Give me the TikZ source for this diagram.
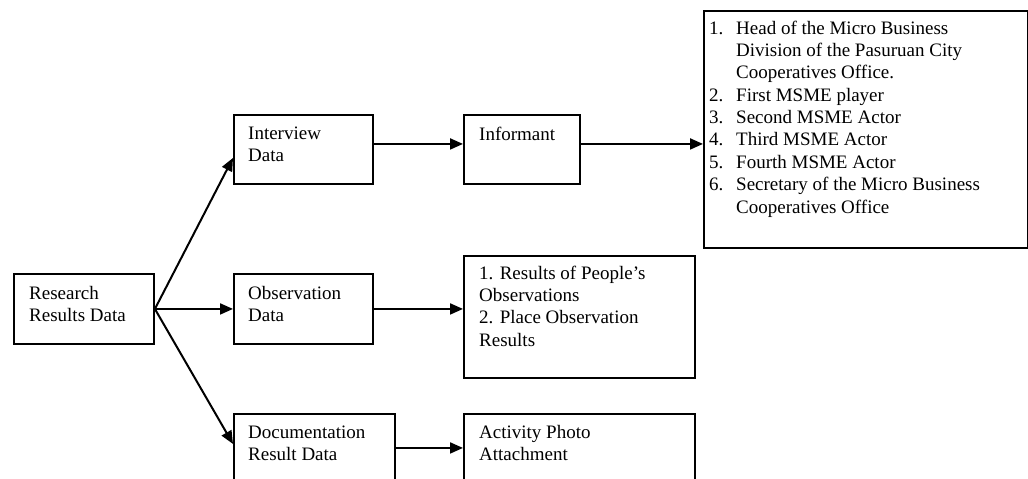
\documentclass[tikz,border=0pt]{standalone}
\usepackage{fontspec}
\setmainfont{Liberation Serif}
\usetikzlibrary{arrows.meta,calc}
\begin{document}
\begin{tikzpicture}[x=1pt,y=-1pt,
  box/.style={draw,line width=1.9pt,inner sep=0pt,anchor=north west},
  lbl/.style={anchor=base west,inner sep=0pt,font=\fontsize{19}{22.4}\selectfont},
  conn/.style={line width=2pt,-{Triangle[length=13pt,width=11pt]}}]
\useasboundingbox (0,0) rectangle (1028,479);
\clip (0,0) rectangle (1028,479);
\fill[white] (0,0) rectangle (1028,479);
% boxes
\node[box,minimum width=140pt,minimum height=70pt] (res) at (13,273) {};
\node[box,minimum width=139pt,minimum height=69pt] (int) at (233,114) {};
\node[box,minimum width=116pt,minimum height=69pt] (inf) at (463,114) {};
\node[box,minimum width=324pt,minimum height=237pt] (big) at (703,10) {};
\node[box,minimum width=139pt,minimum height=70pt] (obs) at (233,273) {};
\node[box,minimum width=231pt,minimum height=122pt] (obsres) at (463,255) {};
\node[box,minimum width=161pt,minimum height=90pt] (doc) at (233,413) {};
\node[box,minimum width=231pt,minimum height=90pt] (act) at (463,413) {};
% texts
\node[lbl] (resT) at (29,299) {\begin{tabular}[t]{@{}l@{}}Research\\Results Data\end{tabular}};
\node[lbl] (intT) at (248,139) {\begin{tabular}[t]{@{}l@{}}Interview\\Data\end{tabular}};
\node[lbl] (infT) at (479,140) {Informant};
\node[lbl] (bigT) at (709,34) {\begin{tabular}[t]{@{}l@{}}
\makebox[27pt][l]{1.}Head of the Micro Business\\
\hspace*{27pt}Division of the Pasuruan City\\
\hspace*{27pt}Cooperatives Office.\\
\makebox[27pt][l]{2.}First MSME player\\
\makebox[27pt][l]{3.}Second MSME Actor\\
\makebox[27pt][l]{4.}Third MSME Actor\\
\makebox[27pt][l]{5.}Fourth MSME Actor\\
\makebox[27pt][l]{6.}Secretary of the Micro Business\\
\hspace*{27pt}Cooperatives Office\end{tabular}};
\node[lbl] (obsT) at (248,299) {\begin{tabular}[t]{@{}l@{}}Observation\\Data\end{tabular}};
\node[lbl] (obsresT) at (479,279) {\begin{tabular}[t]{@{}l@{}}1. Results of People’s\\Observations\\2. Place Observation\\Results\end{tabular}};
\node[lbl] (docT) at (248,438) {\begin{tabular}[t]{@{}l@{}}Documentation\\Result Data\end{tabular}};
\node[lbl] (actT) at (479,438) {\begin{tabular}[t]{@{}l@{}}Activity Photo\\Attachment\end{tabular}};
% connectors
\draw[conn] (res.east) -- ([yshift=-8.5pt]int.west);
\draw[conn] (res.east) -- (obs.west);
\draw[conn] (res.east) -- ([yshift=15pt]doc.west);
\draw[conn] ([yshift=5.5pt]int.east) -- ([yshift=5.5pt]inf.west);
\draw[conn] ([yshift=5.5pt]inf.east) -- ([yshift=-14.5pt]big.west);
\draw[conn] (obs.east) -- ([yshift=8pt]obsres.west);
\draw[conn] ([yshift=11pt]doc.east) -- ([yshift=11pt]act.west);
\end{tikzpicture}
\end{document}
